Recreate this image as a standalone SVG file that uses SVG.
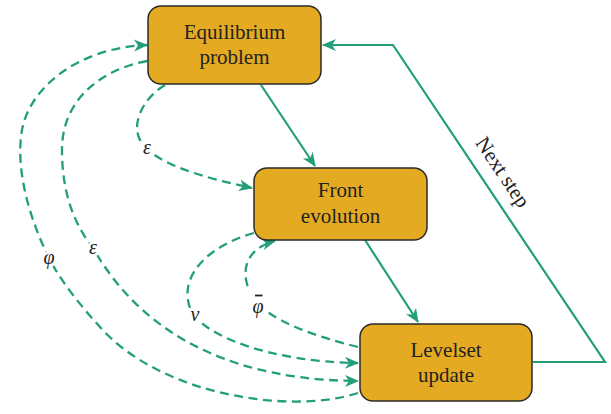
<svg xmlns="http://www.w3.org/2000/svg" width="611" height="414" viewBox="0 0 611 414">
<style>
.box{fill:#E4AA22;stroke:#2a2a2a;stroke-width:1.5}
.lbl{font-family:"Liberation Serif","Times New Roman",serif;font-size:21px;fill:#222;text-anchor:middle}
.sym{font-family:"Liberation Serif","Times New Roman",serif;font-style:italic;font-size:20px;fill:#222;text-anchor:middle;stroke:#fff;stroke-width:6;paint-order:stroke;stroke-linejoin:round}
.solid{fill:none;stroke:#229F7A;stroke-width:2.2;stroke-linejoin:miter}
.dash{fill:none;stroke:#229F7A;stroke-width:2.3;stroke-dasharray:9 5.5}
</style>
<defs>
<marker id="ah" markerUnits="userSpaceOnUse" markerWidth="20" markerHeight="16" viewBox="-15 -8 17 16" refX="0" refY="0" orient="auto">
<path d="M1,0 L-13,-6 L-9,0 L-13,6 Z" fill="#229F7A"/>
</marker>
</defs>
<g id="connectors">
<path class="solid" d="M261,85 L315,166" marker-end="url(#ah)"/>
<path class="solid" d="M365,240 L418,322" marker-end="url(#ah)"/>
<path class="solid" d="M533,362 L605,362 L393,45 L323,45" marker-end="url(#ah)"/>
<path class="dash" d="M165,85 C140,100 128,130 145,147 C165,168 215,180 252,188" marker-end="url(#ah)"/>
<path class="dash" d="M147,61 C100,70 62,100 62,150 C62,195 75,225 93,248 C120,295 185,380 358,381" marker-end="url(#ah)"/>
<path class="dash" d="M358,393 C290,415 160,395 100,327 C80,305 60,280 49,258 C30,220 15,170 22,130 C29,90 75,48 147,45" marker-end="url(#ah)"/>
<path class="dash" d="M254,233 C210,245 178,275 190,308 C200,335 270,362 358,363" marker-end="url(#ah)"/>
<path class="dash" d="M358,347 C310,335 270,320 255,300 C240,280 240,250 275,241" marker-end="url(#ah)"/>
<text class="sym" x="147" y="154">ε</text>
<text class="sym" x="93" y="254">ε</text>
<text class="sym" x="49" y="264">φ</text>
<text class="sym" x="195" y="321">ν</text>
<rect x="249" y="290" width="18" height="27" fill="#fff"/>
<text class="sym" x="258" y="313">φ</text>
<line x1="255" y1="295.5" x2="262.5" y2="295.5" stroke="#222" stroke-width="1.8"/>
<text class="lbl" transform="translate(497,176) rotate(56.2)">Next step</text>
</g>
<g id="equilibrium">
<rect class="box" x="148" y="6" width="173" height="78" rx="13"/>
<text class="lbl" x="234.5" y="39">Equilibrium</text>
<text class="lbl" x="234.5" y="64">problem</text>
</g>
<g id="front">
<rect class="box" x="254" y="168" width="173" height="72" rx="13"/>
<text class="lbl" x="340.5" y="197">Front</text>
<text class="lbl" x="340.5" y="223">evolution</text>
</g>
<g id="levelset">
<rect class="box" x="360" y="324" width="172" height="77" rx="13"/>
<text class="lbl" x="446" y="357">Levelset</text>
<text class="lbl" x="446" y="382">update</text>
</g>
</svg>
